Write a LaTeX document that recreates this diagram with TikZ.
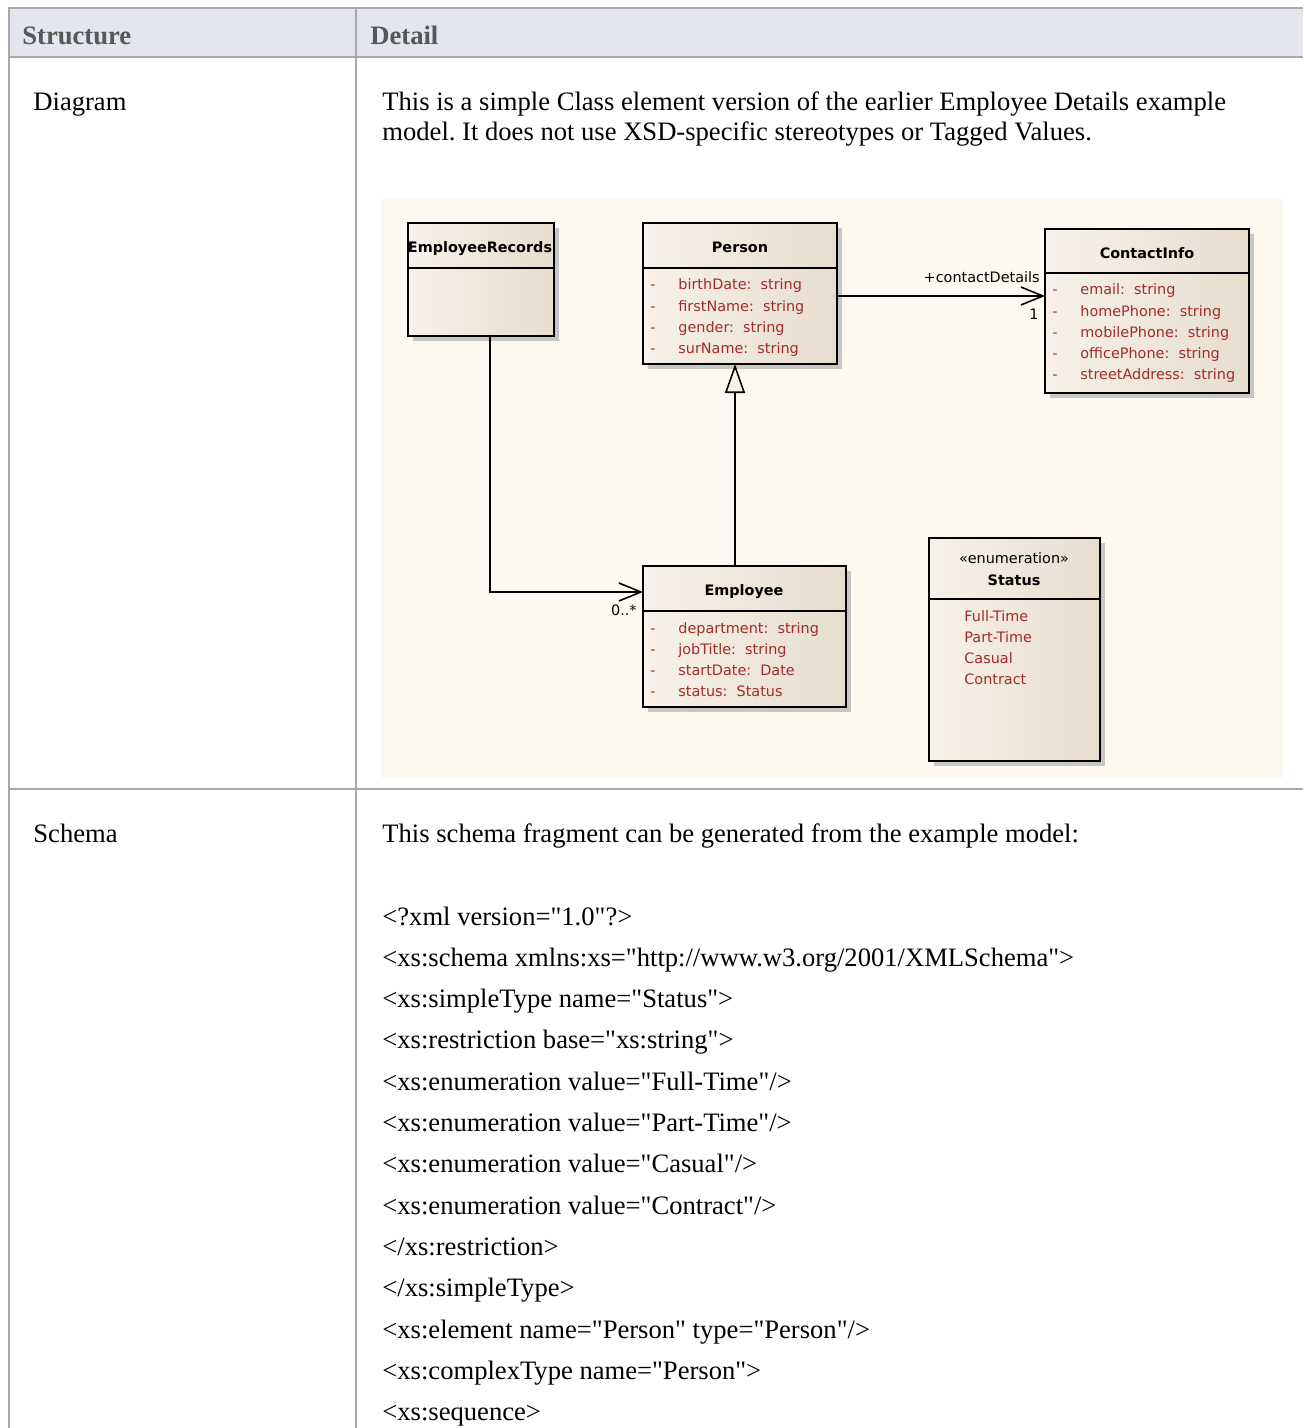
\documentclass[tikz,border=0pt]{standalone}
\usepackage{fontspec}
\setmainfont{Liberation Serif}[Ligatures=TeXOff]
\newfontfamily\umlfont{DejaVu Sans}
\usepackage{xcolor}
\usetikzlibrary{calc,arrows.meta,shadows}
\definecolor{hdrfill}{HTML}{E3E6EE}
\definecolor{rulegray}{HTML}{A8A8A8}
\definecolor{hdrtext}{HTML}{575757}
\definecolor{diagbg}{HTML}{FEF9EE}
\definecolor{clsleft}{HTML}{F7F2E8}
\definecolor{clsright}{HTML}{E6DDCD}
\definecolor{attrred}{HTML}{A32B2B}
\frenchspacing

\begin{document}
\begin{tikzpicture}[x=0.5pt, y=-0.5pt,
  body/.style={font=\fontsize{13.3}{15}\selectfont, anchor=base west, inner sep=0pt},
  headtext/.style={body, font=\fontsize{13.3}{15}\selectfont\bfseries, text=hdrtext},
  cls/.style={draw=black, line width=0.8pt, anchor=north west, inner sep=0pt, outer sep=0pt,
    left color=clsleft, right color=clsright,
    drop shadow={shadow xshift=2.5pt, shadow yshift=-2.5pt, fill=black!22, opacity=1}},
  clsname/.style={font=\umlfont\fontsize{7.2}{8}\selectfont\bfseries, anchor=base, inner sep=0pt},
  attr/.style={font=\umlfont\fontsize{7.2}{8}\selectfont, text=attrred, anchor=base west, inner sep=0pt},
  lbl/.style={font=\umlfont\fontsize{7.2}{8}\selectfont, inner sep=0pt},
  assoc/.style={line width=0.8pt, -{Straight Barb[length=11pt, width=9pt, line width=0.8pt]}},
  gen/.style={line width=0.8pt, -{Triangle[length=14.5pt, width=10pt, fill=clsleft, line width=0.8pt]}}]
\useasboundingbox (0,0) rectangle (1303,1428);
% table
\fill[hdrfill] (9,8) rectangle (1303,57);
\draw[rulegray, line width=1pt] (1303,8) -- (9,8) -- (9,1428);
\draw[rulegray, line width=1pt] (9,57) -- (1303,57);
\draw[rulegray, line width=1pt] (356,8) -- (356,1428);
\draw[rulegray, line width=1pt] (9,789) -- (1303,789);
\node[headtext] (hstruct) at (22,45) {Structure};
\node[headtext] (hdetail) at (370,45) {Detail};
\node[body] (rdiag) at (33,111) {Diagram};
\node[body] (intro1) at (382,111) {This is a simple Class element version of the earlier Employee Details example};
\node[body] (intro2) at (382,141) {model. It does not use XSD-specific stereotypes or Tagged Values.};
\node[body] (rschema) at (33,842) {Schema};
\node[body] (intro3) at (382,842) {This schema fragment can be generated from the example model:};
\foreach \t [count=\i from 0] in {{<?xml version="1.0"?>},
    {<xs:schema xmlns:xs="http://www.w3.org/2001/XMLSchema">},
    {<xs:simpleType name="Status">},
    {<xs:restriction base="xs:string">},
    {<xs:enumeration value="Full-Time"/>},
    {<xs:enumeration value="Part-Time"/>},
    {<xs:enumeration value="Casual"/>},
    {<xs:enumeration value="Contract"/>},
    {</xs:restriction>},
    {</xs:simpleType>},
    {<xs:element name="Person" type="Person"/>},
    {<xs:complexType name="Person">},
    {<xs:sequence>}}
  \node[body] (code\i) at (382,925+41.3*\i) {\t};
% diagram
\fill[diagbg] (381,199) rectangle (1283,778);
\node[cls, minimum width=73pt, minimum height=56.5pt] (er) at (408,223) {};
\node[cls, minimum width=97pt, minimum height=70.5pt] (person) at (643,223) {};
\node[cls, minimum width=102pt, minimum height=82pt] (contact) at (1045,229) {};
\node[cls, minimum width=101.5pt, minimum height=70.5pt] (emp) at (643,566) {};
\node[cls, minimum width=85.5pt, minimum height=111.5pt] (status) at (929,538) {};
\draw[line width=0.8pt] ([yshift=-22.5pt]er.north west) -- ([yshift=-22.5pt]er.north east);
\draw[line width=0.8pt] ([yshift=-22.5pt]person.north west) -- ([yshift=-22.5pt]person.north east);
\draw[line width=0.8pt] ([yshift=-22pt]contact.north west) -- ([yshift=-22pt]contact.north east);
\draw[line width=0.8pt] ([yshift=-22.5pt]emp.north west) -- ([yshift=-22.5pt]emp.north east);
\draw[line width=0.8pt] ([yshift=-30.5pt]status.north west) -- ([yshift=-30.5pt]status.north east);
\node[clsname] (ername) at (480,253) {EmployeeRecords};
\node[clsname] (pname) at (740,253) {Person};
\node[clsname] (cname) at (1147,259) {ContactInfo};
\node[clsname] (ename) at (744,595) {Employee};
\node[clsname, font=\umlfont\fontsize{7.2}{8}\selectfont] (stereo) at (1014,563) {«enumeration»};
\node[clsname] (sname) at (1014,585) {Status};
\foreach \t [count=\i from 0] in {{birthDate:\ \ string}, {firstName:\ \ string}, {gender:\ \ string}, {surName:\ \ string}} {
  \node[attr] (pd\i) at (650,290+21.2*\i) {-};
  \node[attr] (pa\i) at (678,290+21.2*\i) {\t};
}
\foreach \t [count=\i from 0] in {{email:\ \ string}, {homePhone:\ \ string}, {mobilePhone:\ \ string}, {officePhone:\ \ string}, {streetAddress:\ \ string}} {
  \node[attr] (cd\i) at (1052,295+21.2*\i) {-};
  \node[attr] (ca\i) at (1080,295+21.2*\i) {\t};
}
\foreach \t [count=\i from 0] in {{department:\ \ string}, {jobTitle:\ \ string}, {startDate:\ \ Date}, {status:\ \ Status}} {
  \node[attr] (ed\i) at (650,633+21.2*\i) {-};
  \node[attr] (ea\i) at (678,633+21.2*\i) {\t};
}
\foreach \t [count=\i from 0] in {Full-Time, Part-Time, Casual, Contract}
  \node[attr] (sv\i) at (964,621+21*\i) {\t};
% connectors
\coordinate (pout) at ([yshift=-36.5pt]person.north east);
\draw[assoc] (pout) -- (pout -| contact.west);
\node[lbl, anchor=base east] (role) at (1040,283) {+contactDetails};
\node[lbl, anchor=base east] (mult1) at (1039,320) {1};
\coordinate (erout) at ([xshift=4.5pt]er.south);
\coordinate (empin) at ([yshift=-13pt]emp.north west);
\draw[assoc] (erout) |- (empin);
\node[lbl, anchor=base east] (mult2) at (637,615) {0..*};
\coordinate (gtop) at ([xshift=-2.5pt]person.south);
\draw[gen] (gtop |- emp.north) -- (gtop);
\end{tikzpicture}
\end{document}
